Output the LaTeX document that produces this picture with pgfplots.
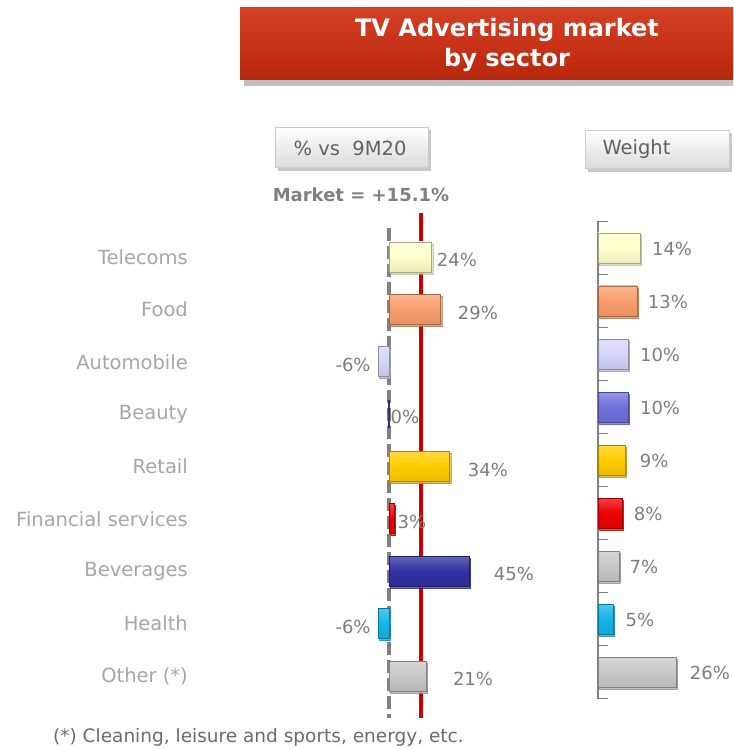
\documentclass[border=0pt]{standalone}
\usepackage{pgfplots}
\pgfplotsset{compat=1.18}
\usepackage{fontspec}
\setmainfont{DejaVu Sans}
\usetikzlibrary{shadows}

\definecolor{labgray}{RGB}{166,166,166}
\definecolor{valgray}{RGB}{125,125,125}
\definecolor{axgray}{RGB}{128,128,128}
\definecolor{mktred}{RGB}{204,0,0}
\definecolor{tredtop}{RGB}{212,64,36}
\definecolor{tredbot}{RGB}{184,38,12}
\definecolor{cTel}{RGB}{255,255,204}
\definecolor{cFood}{RGB}{250,158,108}
\definecolor{cAuto}{RGB}{212,212,250}
\definecolor{cBeauty}{RGB}{112,112,220}
\definecolor{cRetail}{RGB}{255,204,0}
\definecolor{cFin}{RGB}{240,0,0}
\definecolor{cBev}{RGB}{48,48,160}
\definecolor{cHealth}{RGB}{20,180,235}
\definecolor{cOther}{RGB}{200,200,200}

\newcommand\catfont{\fontsize{19.5}{23}\selectfont}
\newcommand\valfont{\fontsize{18}{22}\selectfont}

\pgfplotsset{
  sbar/.style={xbar, bar shift=0pt, bar width=30pt,
    top color=#1!75!white, bottom color=#1!92!black, middle color=#1,
    draw=#1!65!black, line width=0.8pt,
    drop shadow={shadow xshift=1.5pt, shadow yshift=-2pt, fill=black!35, opacity=0.6}},
  vlabels/.style={only marks, mark=none, point meta=explicit symbolic,
    nodes near coords={\pgfplotspointmeta\%},
    every node near coord/.style={anchor=center, font=\valfont, text=valgray, inner sep=0pt}},
}

\begin{document}
\begin{tikzpicture}
\useasboundingbox (0,0) rectangle (733pt,749pt);

% growth vs 9M20
\begin{axis}[
  at={(344.5pt,46.8pt)}, anchor=south west,
  scale only axis, width=178pt, height=471.4pt,
  xmin=-25, xmax=75, ymin=-0.5, ymax=8.5, y dir=reverse,
  axis line style={draw=none}, xtick=\empty,
  ytick={0,...,8},
  yticklabels={Telecoms,Food,Automobile,Beauty,Retail,Financial services,Beverages,Health,Other (*)},
  major tick length=0pt,
  yticklabel style={font=\catfont, text=labgray, anchor=east, inner sep=0pt, xshift=-156.5pt},
  clip=false,
]
\addplot[axgray, line width=4pt, dash pattern=on 13pt off 5pt, forget plot] coordinates {(0,-0.55) (0,8.8)};
\addplot[mktred, line width=4pt, forget plot] coordinates {(18,-0.84) (18,8.8)};
\addplot[sbar=cTel] coordinates {(24,0)};
\addplot[sbar=cFood] coordinates {(29,1)};
\addplot[sbar=cAuto] coordinates {(-6,2)};
\addplot[xbar, bar shift=0pt, bar width=28pt, draw=cBeauty!45!black, line width=1.6pt] coordinates {(0,3)};
\addplot[sbar=cRetail] coordinates {(34,4)};
\addplot[sbar=cFin] coordinates {(3,5)};
\addplot[sbar=cBev] coordinates {(45,6)};
\addplot[sbar=cHealth] coordinates {(-6,7)};
\addplot[sbar=cOther] coordinates {(21,8)};
\addplot[vlabels] table[meta=lab] {
x     y     lab
38.2  0.06  24
50.0  1.06  29
-20.2 2.06  -6
9.0   3.06  0
55.6  4.06  34
12.9  5.06  3
70.2  6.06  45
-20.2 7.06  -6
47.2  8.06  21
};
\end{axis}

% weight
\begin{axis}[
  at={(598pt,50.5pt)}, anchor=south west,
  scale only axis, width=120pt, height=477pt,
  xmin=0, xmax=40, ymin=-0.5, ymax=8.5, y dir=reverse,
  axis x line=none, axis y line*=left,
  y axis line style={-, draw=axgray, line width=1.6pt},
  ytick={-0.5,0.5,...,8.5}, yticklabels={},
  tick align=inside, major tick length=10pt,
  major tick style={draw=axgray, line width=1.4pt},
  clip=false,
]
\addplot[sbar=cTel] coordinates {(14,0)};
\addplot[sbar=cFood] coordinates {(13,1)};
\addplot[sbar=cAuto] coordinates {(10,2)};
\addplot[sbar=cBeauty] coordinates {(10,3)};
\addplot[sbar=cRetail] coordinates {(9,4)};
\addplot[sbar=cFin] coordinates {(8,5)};
\addplot[sbar=cOther] coordinates {(7,6)};
\addplot[sbar=cHealth] coordinates {(5,7)};
\addplot[sbar=cOther] coordinates {(26,8)};
\addplot[vlabels] table[meta=lab] {
x     y     lab
24.7  0.02  14
23.3  1.02  13
20.7  2.02  10
20.7  3.02  10
18.7  4.02  9
16.7  5.02  8
15.3  6.02  7
14.0  7.02  5
37.3  8.02  26
};
\end{axis}

% title box
\fill[black!25] (244pt,663pt) rectangle (733pt,737pt);
\shade[top color=tredtop, bottom color=tredbot] (240pt,669pt) rectangle (733pt,741pt);
\node[text=white, align=center, font=\fontsize{24}{30}\selectfont\bfseries] at (507pt,704pt)
  {TV Advertising market\\by sector};

% sub headers
\fill[black!22] (278pt,578pt) rectangle (431pt,619pt);
\shade[top color=white, bottom color=black!14, draw=black!20] (275pt,582pt) rectangle (428pt,622pt);
\node[text=black!62, font=\fontsize{19.5}{23}\selectfont] at (350pt,601pt) {\% vs\ \ 9M20};
\fill[black!22] (588pt,577pt) rectangle (732pt,616pt);
\shade[top color=white, bottom color=black!14, draw=black!20] (585pt,581pt) rectangle (729pt,619pt);
\node[text=black!62, anchor=west, font=\fontsize{19.5}{23}\selectfont] at (599pt,600pt) {Weight};

\node[text=axgray, font=\fontsize{18}{22}\selectfont\bfseries] at (361pt,554pt) {Market = +15.1\%};
\node[text=black!58, anchor=west, inner sep=0pt, font=\fontsize{18.5}{22}\selectfont] at (53pt,12pt)
  {(*) Cleaning, leisure and sports, energy, etc.};
\end{tikzpicture}
\end{document}
